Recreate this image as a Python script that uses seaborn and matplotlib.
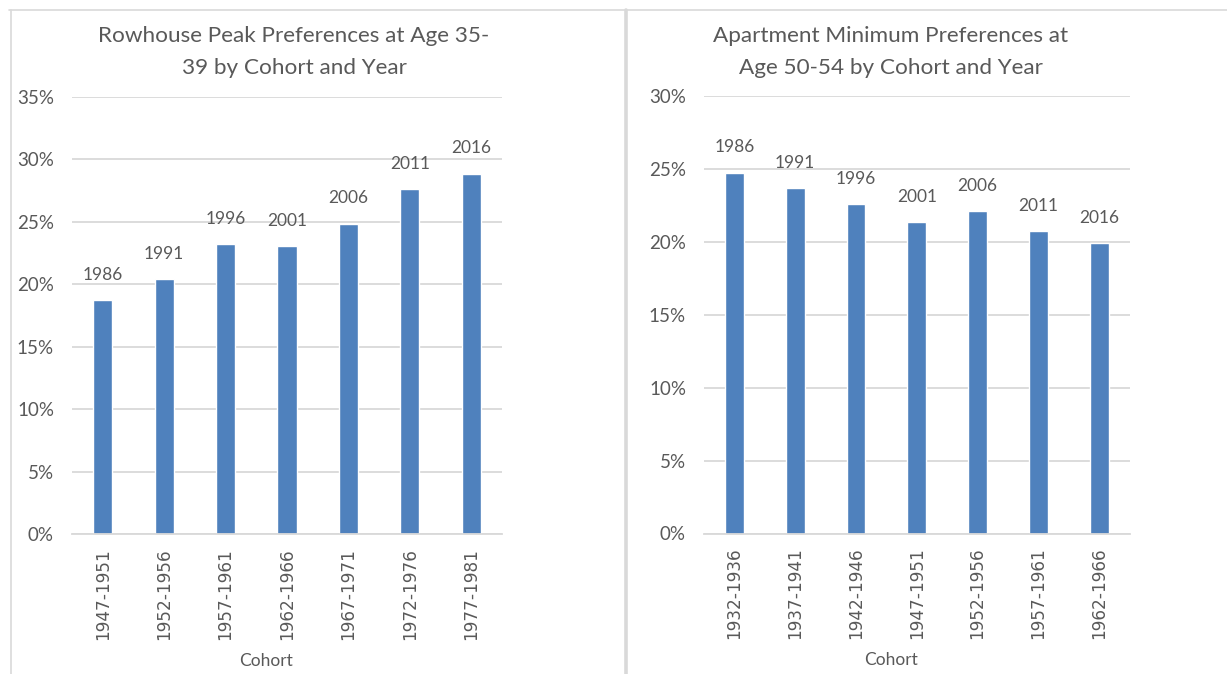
import matplotlib
matplotlib.use("Agg")
import matplotlib.pyplot as plt
import seaborn as sns
import pandas as pd
from matplotlib.lines import Line2D
from matplotlib.ticker import PercentFormatter

sns.set_theme(style="white")
plt.rcParams["font.family"] = ["Lato", "DejaVu Sans"]

BLUE = "#4F81BD"
GREY_TEXT = "#595959"
GRID = "#D9D9D9"

# rowhouse peak, age 35-39
row_cohorts = ["1947-1951", "1952-1956", "1957-1961", "1962-1966",
               "1967-1971", "1972-1976", "1977-1981"]
row_years = ["1986", "1991", "1996", "2001", "2006", "2011", "2016"]
row_share = [18.75, 20.4, 23.2, 23.05, 24.85, 27.6, 28.85]

# apartment minimum, age 50-54
apt_cohorts = ["1932-1936", "1937-1941", "1942-1946", "1947-1951",
               "1952-1956", "1957-1961", "1962-1966"]
apt_years = ["1986", "1991", "1996", "2001", "2006", "2011", "2016"]
apt_share = [24.73, 23.68, 22.6, 21.33, 22.1, 20.73, 19.9]

row_df = pd.DataFrame({"Cohort": row_cohorts, "share": row_share, "year": row_years})
apt_df = pd.DataFrame({"Cohort": apt_cohorts, "share": apt_share, "year": apt_years})

fig = plt.figure(figsize=(12.27, 6.74), dpi=100)
fig.patch.set_facecolor("white")

ax1 = fig.add_axes([72 / 1227, 1 - 534 / 674, 430 / 1227, 437 / 674])
ax2 = fig.add_axes([704 / 1227, 1 - 533.5 / 674, 425.5 / 1227, 437.5 / 674])


def draw(ax, df, ymax, title, title_x, xlab_x):
    sns.barplot(data=df, x="Cohort", y="share", ax=ax, color=BLUE,
                width=0.31, saturation=1)
    ax.bar_label(ax.containers[0], labels=df["year"], padding=12.5,
                 fontsize=12.5, color=GREY_TEXT)
    ax.set_ylim(0, ymax)
    ax.set_yticks(range(0, ymax + 1, 5))
    ax.yaxis.set_major_formatter(PercentFormatter(decimals=0))
    ax.grid(axis="y", color=GRID, linewidth=1.3)
    ax.set_axisbelow(True)
    for s in ["top", "right", "left"]:
        ax.spines[s].set_visible(False)
    ax.spines["bottom"].set_color(GRID)
    ax.spines["bottom"].set_linewidth(1.3)
    ax.tick_params(axis="y", length=0, pad=13, labelsize=13.5, labelcolor=GREY_TEXT)
    ax.tick_params(axis="x", length=0, pad=10)
    # rotated labels look stretched in the original, so a wider face fits better
    ax.set_xticks(range(len(df)), labels=df["Cohort"], rotation=90,
                  fontsize=12.2, color=GREY_TEXT, family="DejaVu Sans")
    ax.set_ylabel("")
    ax.set_xlabel("Cohort", fontsize=12.5, color=GREY_TEXT, va="center")
    ax.xaxis.set_label_coords(xlab_x, -0.29)
    fig.text(title_x / 1227, 1 - 52 / 674, title, ha="center", va="center",
             fontsize=16.2, color=GREY_TEXT, linespacing=1.7)


draw(ax1, row_df, 35, "Rowhouse Peak Preferences at Age 35-\n39 by Cohort and Year",
     294, 0.451)
draw(ax2, apt_df, 30, "Apartment Minimum Preferences at\nAge 50-54 by Cohort and Year",
     890.5, 0.4395)

# panel frames
fig.add_artist(Line2D([9 / 1227, 1], [1 - 9.5 / 674] * 2, color=GRID, linewidth=1.2))
fig.add_artist(Line2D([10.5 / 1227] * 2, [0, 1 - 9.5 / 674], color=GRID, linewidth=1.2))
fig.add_artist(Line2D([626 / 1227] * 2, [0, 1 - 9.5 / 674], color=GRID, linewidth=2.6))

fig.savefig("out.png", dpi=100, facecolor="white")
